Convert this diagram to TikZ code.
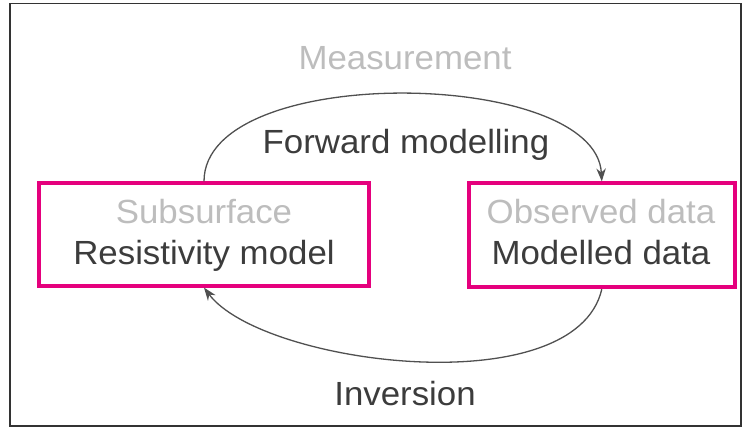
\documentclass[tikz,border=0pt]{standalone}
\usepackage{fontspec}
\setmainfont{Liberation Sans}[FakeStretch=1.04]
\usetikzlibrary{arrows.meta}
\definecolor{boxpink}{HTML}{E5007D}
\definecolor{darktext}{HTML}{3C3C3C}
\definecolor{lighttext}{HTML}{BDBDBD}
\definecolor{arcgray}{HTML}{505050}
\begin{document}
\begin{tikzpicture}[x=1pt,y=-1pt,
  label/.style={anchor=base,inner sep=0pt,font=\fontsize{33.5}{40}\selectfont},
  dark/.style={label,text=darktext},
  light/.style={label,text=lighttext},
  panel/.style={draw=boxpink,line width=3.8pt,rectangle,inner sep=0pt},
  loop/.style={draw=arcgray,line width=1.3pt,-{Stealth[length=13pt,width=9.5pt]}}]
  \useasboundingbox (0,0) rectangle (745,428);
  % outer frame
  \draw[line width=1.5pt,draw=black!80] (10,3.3) rectangle (741,426);
  % the two panels
  \node[panel,minimum width=330pt,minimum height=102.4pt] (model) at (204,234.5) {};
  \node[panel,minimum width=265.7pt,minimum height=104pt] (data) at (601.8,235.3) {};
  % texts
  \node[light] (meas) at (405,69.3) {Measurement};
  \node[dark] (fwd) at (406,153.3) {Forward modelling};
  \node[light] (sub) at (204,223) {Subsurface};
  \node[dark] (res) at (204,264.5) {Resistivity model};
  \node[light] (obs) at (601,223) {Observed data};
  \node[dark] (mod) at (601,264.5) {Modelled data};
  \node[dark] (inv) at (405,405) {Inversion};
  % forward and inverse loops
  \draw[loop] (model.north) .. controls (204,62) and (596,68) .. (data.north);
  \draw[loop] (data.south) .. controls (575,405) and (262,365) .. (model.south);
\end{tikzpicture}
\end{document}
